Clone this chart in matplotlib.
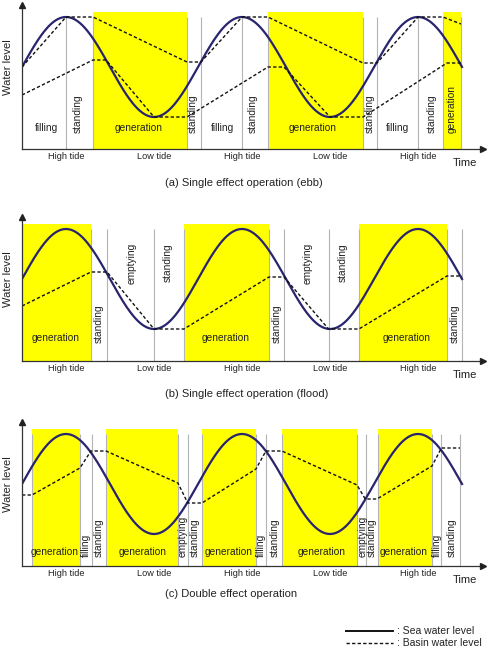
import numpy as np
import matplotlib
matplotlib.use('Agg')
import matplotlib.pyplot as plt
from matplotlib.lines import Line2D
from matplotlib.transforms import blended_transform_factory

plt.rcParams['font.family'] = ['Liberation Sans', 'DejaVu Sans']

# tide (schematic sine): period and amplitude
tide_period = 12.0
tide_amp = 1.0
tide_ticks = [3, 9, 15, 21, 27]
tide_labels = ['High tide', 'Low tide', 'High tide', 'Low tide', 'High tide']

# (a) ebb
a_yellow = [(4.84, 11.25), (16.77, 23.25), (28.7, 29.93)]
a_bounds = [3.0, 4.84, 11.25, 12.2, 15.0, 16.77, 23.25, 24.2, 27.0, 28.7, 29.93]
a_basin1_t = [0, 3.0, 4.84, 11.25, 12.2, 15.0, 16.77, 23.25, 24.2, 27.0, 28.7, 29.93]
a_basin1_h = [0.0, 1.0, 1.0, 0.1, 0.1, 1.0, 1.0, 0.08, 0.08, 1.0, 1.0, 0.86]
a_basin2_t = [0, 4.84, 5.73, 9.0, 11.25, 16.77, 17.86, 21.0, 23.25, 28.97, 29.93]
a_basin2_h = [-0.56, 0.14, 0.14, -1.0, -1.0, 0.0, 0.0, -1.0, -1.0, 0.08, 0.08]
a_text = ['filling', 'standing', 'generation', 'standing', 'filling', 'standing',
          'generation', 'standing', 'filling', 'standing', 'generation']
a_text_t = [1.64, 3.82, 7.97, 11.66, 13.7, 15.75, 19.84, 23.7, 25.57, 27.95, 29.3]
a_text_rot = [0, 1, 0, 1, 0, 1, 0, 1, 0, 1, 1]

# (b) flood
b_yellow = [(0, 4.7), (11.04, 16.84), (22.97, 28.97)]
b_bounds = [4.7, 5.8, 9.0, 11.04, 16.84, 17.86, 20.9, 22.97, 28.97, 30.0]
b_basin_t = [0, 4.7, 5.8, 9.0, 11.04, 16.84, 17.86, 20.9, 22.97, 28.97, 30.0]
b_basin_h = [-0.54, 0.14, 0.14, -1.0, -1.0, 0.04, 0.04, -1.0, -1.0, 0.06, 0.06]
b_text = ['generation', 'standing', 'emptying', 'standing', 'generation', 'standing',
          'emptying', 'standing', 'generation', 'standing']
b_text_t = [2.32, 5.25, 7.5, 9.95, 13.9, 17.38, 19.5, 21.9, 26.2, 29.5]
b_text_rot = [0, 1, 2, 2, 0, 1, 2, 2, 0, 1]

# (c) double effect
c_yellow = [(0.68, 3.95), (5.73, 10.63), (12.27, 15.95), (17.72, 22.84), (24.27, 27.95)]
c_bounds = [0.68, 3.95, 4.77, 5.73, 10.63, 11.3, 12.27, 15.95, 16.63, 17.72,
            22.84, 23.45, 24.27, 27.95, 28.6, 29.86]
c_basin_t = [0, 0.68, 3.95, 4.7, 5.73, 10.63, 11.3, 12.27, 15.95, 16.63, 17.72,
             22.84, 23.4, 24.2, 27.95, 28.6, 29.86]
c_basin_h = [-0.22, -0.22, 0.32, 0.66, 0.66, 0.02, -0.38, -0.38, 0.3, 0.66, 0.66,
             -0.02, -0.3, -0.3, 0.36, 0.72, 0.72]
c_text = ['generation', 'filling', 'standing', 'generation', 'emptying', 'standing',
          'generation', 'filling', 'standing', 'generation', 'emptying', 'standing',
          'generation', 'filling', 'standing']
c_text_t = [2.25, 4.36, 5.25, 8.25, 10.97, 11.8, 14.1, 16.3, 17.25, 20.4, 23.2, 23.86,
            26.0, 28.3, 29.3]
c_text_rot = [0, 1, 1, 0, 1, 1, 0, 1, 1, 0, 1, 1, 0, 1, 1]

W, H = 493, 655
fig = plt.figure(figsize=(W / 100, H / 100), dpi=100)

sea_col = '#28246e'
ymin, ymax = -1.64, 1.24


def panel(mid_px, yellow, bounds, basins, texts, text_t, text_rot, h_y, r_y, caption, cap_px):
    top = mid_px - 62
    ax = fig.add_axes([22 / W, 1 - (top + 144) / H, 461 / W, 144 / H])
    ax.set_xlim(0, 31.43)
    ax.set_ylim(ymin, ymax)
    for x0, x1 in yellow:
        ax.fill_between([x0, x1], ymin, 1.1, color='#ffff00', lw=0, zorder=1)
    ax.vlines(bounds, ymin, 1.0, color='#b4b4b4', lw=0.8, zorder=2)
    t = np.linspace(0, 30, 400)
    ax.plot(t, tide_amp * np.sin(2 * np.pi * t / tide_period), color=sea_col, lw=1.6, zorder=4)
    for bt, bh in basins:
        ax.plot(bt, bh, color='#111111', lw=1.0, dashes=(2.4, 1.6), zorder=5)
    for s, x, r in zip(texts, text_t, text_rot):
        if r == 0:
            ax.text(x, h_y, s, ha='center', va='center', fontsize=7.3, color='#222222', zorder=6)
        elif r == 1:
            ax.text(x, r_y, s, ha='center', va='bottom', rotation=90, fontsize=7.3,
                    color='#222222', zorder=6)
        else:
            ax.text(x, 0.32, s, ha='center', va='center', rotation=90, fontsize=7.3,
                    color='#222222', zorder=6)
    for sp in ['top', 'right']:
        ax.spines[sp].set_visible(False)
    for sp in ['left', 'bottom']:
        ax.spines[sp].set_color('#333333')
        ax.spines[sp].set_linewidth(0.9)
        ax.spines[sp].set_zorder(7)
    ax.plot(0, 1, '^', color='#222222', ms=5, transform=ax.transAxes, clip_on=False, zorder=8)
    ax.plot(1, 0, '>', color='#222222', ms=5, transform=ax.transAxes, clip_on=False, zorder=8)
    ax.set_yticks([])
    ax.set_xticks(tide_ticks, tide_labels, fontsize=6.6, color='#222222')
    ax.tick_params(axis='x', length=0, pad=2.5)
    ax.set_facecolor('none')
    ax.text(0.961, -0.097, 'Time', transform=ax.transAxes, ha='center', va='center',
            fontsize=8, color='#222222')
    tr = blended_transform_factory(ax.transAxes, ax.transData)
    ax.text(-14 / 461, 0, 'Water level', transform=tr, rotation=90, ha='center',
            va='center', fontsize=8, color='#222222')
    fig.text(165 / W, 1 - cap_px / H, caption, ha='left', va='center', fontsize=8,
             color='#222222')
    return ax


panel(67, a_yellow, a_bounds, [(a_basin1_t, a_basin1_h), (a_basin2_t, a_basin2_h)],
      a_text, a_text_t, a_text_rot, -1.22, -1.32, '(a) Single effect operation (ebb)', 183)
panel(279, b_yellow, b_bounds, [(b_basin_t, b_basin_h)],
      b_text, b_text_t, b_text_rot, -1.18, -1.28, '(b) Single effect operation (flood)', 394)
panel(484, c_yellow, c_bounds, [(c_basin_t, c_basin_h)],
      c_text, c_text_t, c_text_rot, -1.36, -1.46, '(c) Double effect operation', 594)

# legend
fig.add_artist(Line2D([346 / W, 393 / W], [1 - 631 / H, 1 - 631 / H], color='#111111', lw=1.4))
fig.add_artist(Line2D([346 / W, 393 / W], [1 - 643 / H, 1 - 643 / H], color='#111111', lw=1.0,
                      dashes=(2.4, 1.6)))
fig.text(397 / W, 1 - 631 / H, ': Sea water level', ha='left', va='center', fontsize=7.5,
         color='#222222')
fig.text(397 / W, 1 - 643 / H, ': Basin water level', ha='left', va='center', fontsize=7.5,
         color='#222222')

fig.savefig('out.png', dpi=100)
